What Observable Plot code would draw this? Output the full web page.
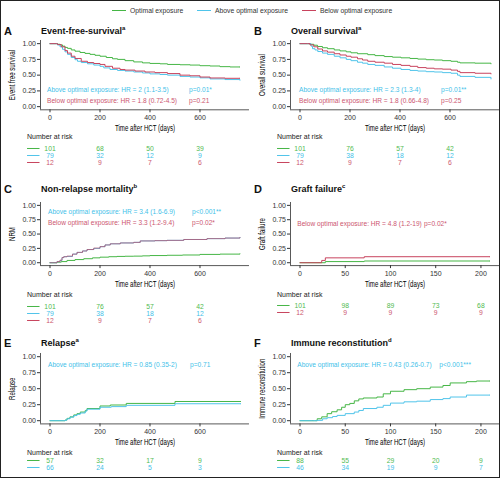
<!DOCTYPE html>
<html><head><meta charset="utf-8">
<script src="https://cdn.jsdelivr.net/npm/d3@7"></script>
<script src="https://cdn.jsdelivr.net/npm/@observablehq/plot@0.6"></script>
<style>
body{margin:0;background:#fff;}
#fig{position:relative;width:500px;height:478px;overflow:hidden;font-family:"Liberation Sans",Arial,sans-serif;background:#fff;}
#frame{position:absolute;left:0;top:0;width:500px;height:478px;box-sizing:border-box;border:1.5px solid #222;pointer-events:none;}
.abs{position:absolute;white-space:nowrap;line-height:1;}
.abs svg{display:block;}
.letter{font-weight:bold;font-size:11px;color:#111;}
.title{font-weight:bold;font-size:9px;color:#111;}
.title sup{font-size:6px;vertical-align:4px;line-height:0;}
.hdr{font-size:7px;color:#222;}
.leg{font-size:6.8px;color:#333;}
.legline{display:inline-block;width:14px;height:1.2px;vertical-align:middle;margin-right:4px;}
</style></head>
<body><div id="fig"><div id="frame"></div></div>
<script>
// ---------- data ----------
const groups = ["Optimal exposure", "Above optimal exposure", "Below optimal exposure"];
const xTitle = "Time after HCT (days)";
const yTicks = [0, 0.25, 0.5, 0.75, 1];
const longTicks = [0, 200, 400, 600];
const shortTicks = [0, 50, 100, 150, 200];

// A: event-free survival  [time, probability]
const efsOpt = [[0,1],[25,1],[30,0.99],[40,0.98],[50,0.96],[60,0.94],[70,0.925],[85,0.9],[100,0.88],[120,0.86],[140,0.845],[160,0.83],[180,0.815],[200,0.8],[225,0.78],[250,0.76],[270,0.75],[300,0.73],[335,0.71],[370,0.695],[400,0.686],[440,0.68],[470,0.67],[520,0.665],[560,0.66],[600,0.65],[640,0.645],[680,0.635],[720,0.63],[760,0.63]];
const efsAbove = [[0,1],[25,1],[30,0.98],[40,0.95],[50,0.91],[60,0.87],[70,0.83],[85,0.78],[100,0.745],[110,0.72],[125,0.7],[150,0.68],[175,0.66],[200,0.64],[215,0.615],[240,0.59],[270,0.575],[300,0.565],[335,0.55],[370,0.535],[400,0.52],[440,0.51],[470,0.5],[520,0.48],[560,0.47],[600,0.457],[640,0.44],[700,0.43],[760,0.42]];
const efsBelow = [[0,1],[25,1],[30,0.985],[45,0.95],[60,0.89],[70,0.85],[85,0.8],[100,0.765],[125,0.72],[150,0.7],[175,0.685],[200,0.67],[220,0.64],[250,0.61],[280,0.59],[300,0.58],[340,0.565],[380,0.55],[420,0.54],[470,0.525],[520,0.5],[560,0.49],[600,0.47],[640,0.455],[700,0.45],[760,0.45]];
// B: overall survival
const osOpt = [[0,1],[30,1],[40,0.99],[55,0.975],[70,0.955],[90,0.935],[110,0.92],[137,0.9],[160,0.885],[185,0.87],[204,0.855],[230,0.84],[271,0.825],[300,0.81],[337,0.795],[370,0.785],[404,0.775],[440,0.765],[471,0.755],[505,0.745],[537,0.74],[570,0.73],[604,0.72],[630,0.705],[640,0.695],[700,0.69],[764,0.68]];
const osAbove = [[0,1],[30,1],[44,0.96],[50,0.92],[60,0.9],[71,0.875],[90,0.85],[110,0.83],[137,0.8],[160,0.775],[185,0.75],[204,0.73],[230,0.705],[250,0.69],[271,0.67],[300,0.655],[337,0.63],[370,0.61],[404,0.59],[440,0.575],[471,0.565],[505,0.555],[537,0.55],[570,0.54],[604,0.53],[630,0.5],[640,0.48],[700,0.465],[764,0.44]];
const osBelow = [[0,1],[30,1],[40,0.98],[55,0.95],[71,0.915],[90,0.885],[110,0.865],[137,0.84],[160,0.82],[185,0.8],[204,0.785],[230,0.76],[250,0.74],[271,0.72],[300,0.705],[337,0.69],[370,0.67],[404,0.655],[440,0.64],[471,0.62],[505,0.61],[537,0.6],[570,0.595],[604,0.58],[630,0.56],[640,0.54],[700,0.53],[764,0.52]];
// C: non-relapse mortality
const nrmOpt = [[0,0],[20,0],[28,0.01],[45,0.02],[68,0.04],[100,0.055],[135,0.07],[170,0.085],[200,0.097],[235,0.105],[268,0.11],[300,0.113],[335,0.115],[370,0.12],[400,0.125],[468,0.13],[530,0.135],[600,0.145],[680,0.15],[760,0.155]];
const nrmAbove = [[0,0],[10,0],[28,0.02],[40,0.04],[48,0.09],[55,0.105],[68,0.11],[90,0.15],[108,0.18],[130,0.205],[148,0.23],[175,0.25],[200,0.28],[220,0.31],[241,0.33],[281,0.345],[335,0.355],[361,0.38],[420,0.385],[468,0.39],[535,0.405],[628,0.42],[700,0.43],[760,0.44]];
const nrmBelow = [[0,0],[10,0],[28,0.02],[40,0.045],[48,0.09],[55,0.105],[68,0.115],[90,0.15],[108,0.18],[130,0.205],[148,0.23],[175,0.255],[200,0.28],[220,0.31],[241,0.33],[281,0.345],[335,0.355],[361,0.38],[420,0.385],[468,0.39],[535,0.405],[628,0.42],[700,0.43],[760,0.44]];
// D: graft failure
const gfOpt = [[0,0],[28,0.02],[71,0.03],[210,0.03]];
const gfBelow = [[0,0],[24,0.04],[28,0.085],[71,0.105],[210,0.105]];
// E: relapse
const relOpt = [[0,0],[55,0],[60,0.01],[68,0.036],[80,0.06],[95,0.09],[108,0.11],[121,0.135],[141,0.16],[148,0.19],[200,0.23],[241,0.245],[305,0.27],[500,0.3],[764,0.3]];
const relAbove = [[0,0],[55,0],[60,0.008],[68,0.03],[80,0.055],[95,0.08],[108,0.1],[121,0.12],[141,0.15],[148,0.18],[200,0.21],[245,0.22],[305,0.24],[500,0.265],[764,0.265]];
// F: immune reconstitution
const irOpt = [[0,0],[16,0],[19,0.03],[24,0.06],[30,0.11],[35,0.14],[41,0.17],[46,0.21],[50,0.25],[55,0.27],[60,0.31],[65,0.34],[70,0.355],[85,0.37],[92,0.42],[100,0.46],[115,0.485],[129,0.5],[144,0.525],[158,0.55],[166,0.59],[184,0.61],[195,0.62],[210,0.62]];
const irAbove = [[0,0],[14,0],[19,0.005],[25,0.03],[30,0.047],[36,0.065],[41,0.083],[50,0.11],[60,0.135],[65,0.16],[70,0.19],[85,0.21],[92,0.24],[100,0.275],[115,0.295],[129,0.305],[144,0.33],[158,0.345],[166,0.37],[184,0.4],[210,0.4]];

// number at risk
const riskA = {opt:[101,68,50,39], above:[79,32,12,9], below:[12,9,7,6]};
const riskB = {opt:[101,76,57,42], above:[79,38,18,12], below:[12,9,7,6]};
const riskC = {opt:[101,76,57,42], above:[79,38,18,12], below:[12,9,7,6]};
const riskD = {opt:[101,98,89,73,68], below:[12,9,9,9,9]};
const riskE = {opt:[57,32,17,9], above:[66,24,5,3]};
const riskF = {opt:[88,55,29,20,9], above:[46,34,19,9,7]};

// annotation texts
const annA = ["Above optimal exposure: HR = 2 (1.1-3.5)", "p=0.01*", "Below optimal exposure: HR = 1.8 (0.72-4.5)", "p=0.21"];
const annB = ["Above optimal exposure: HR = 2.3 (1.3-4)", "p=0.01**", "Below optimal exposure: HR = 1.8 (0.66-4.8)", "p=0.25"];
const annC = ["Above optimal exposure: HR = 3.4 (1.6-6.9)", "p<0.001**", "Below optimal exposure: HR = 3.3 (1.2-9.4)", "p=0.02*"];
const annD = ["Below optimal exposure: HR = 4.8 (1.2-19)", "p=0.02*"];
const annE = ["Above optimal exposure: HR = 0.85 (0.35-2)", "p=0.71"];
const annF = ["Above optimal exposure: HR = 0.43 (0.26-0.7)", "p<0.001***"];

// ---------- styles ----------
const C = {opt:"#45b645", above:"#4fc4ea", below:"#c8435d"};
const CR = {opt:"#4fba4f", above:"#3fbfe9", below:"#cc5670"};
const fig = document.getElementById("fig");

function div(cls, left, top, html){
  const d = document.createElement("div");
  d.className = "abs " + cls;
  d.style.left = left + "px"; d.style.top = top + "px";
  d.innerHTML = html;
  fig.appendChild(d);
  return d;
}

// legend
[["opt",112],["above",197],["below",302]].forEach(([k,x],i)=>{
  div("leg", x, 7.5, `<span class="legline" style="background:${C[k]}"></span>${groups[i]}`);
});

const rows = [
  {rangeTop:39.55, rangeBottom:108.85, titleY:26, headerY:132.5, riskY:147.3},
  {rangeTop:202.1, rangeBottom:265.2, titleY:184, headerY:290.5, riskY:305.3},
  {rangeTop:353.1, rangeBottom:423.5, titleY:338, headerY:448.5, riskY:460}
];

// condense a text element (narrow-font look) keeping its anchor
function condense(svg, label, factor){
  svg.querySelectorAll("text").forEach(t => {
    if (t.textContent === label) {
      const w = t.getComputedTextLength();
      t.setAttribute("textLength", (w*factor).toFixed(1));
      t.setAttribute("lengthAdjust", "spacingAndGlyphs");
    }
  });
}

function addPanel(p){
  const row = rows[p.row];
  const W = 250, ml = 40, mr = 1, mt = 4, mb = 32;
  const top = row.rangeTop - mt;
  const H = (row.rangeBottom - top) + mb;
  const xd = p.xDomain;
  const k = (W - ml - mr) / (xd[1] - xd[0]);
  const marks = [
    Plot.ruleX([xd[0]], {stroke:"#111", strokeWidth:0.7}),
    Plot.ruleY([-0.05], {stroke:"#111", strokeWidth:0.7}),
    Plot.axisX({anchor:"bottom", ticks:p.xTicks, tickSize:3, tickPadding:2, fontSize:7, label:null, tickFormat:d=>String(d)}),
    Plot.axisY({anchor:"left", ticks:yTicks, tickSize:3, tickPadding:1.5, fontSize:7, label:null, tickFormat:d3.format(".2f")}),
    ...p.series.map(s => Plot.line(s.data, {x:d=>d[0], y:d=>d[1], stroke:C[s.g], strokeWidth:1, strokeOpacity:s.op ?? 1, curve:"step-after"})),
    ...p.ann.map(a => Plot.text([a.text], {x:()=>a.x, y:()=>a.y, text:d=>d, fill:CR[a.g], textAnchor:"start", fontSize:6.6})),
    Plot.text([xTitle], {frameAnchor:"bottom", dy:21, text:d=>d, fontSize:9, fill:"#000"}),
    Plot.text([p.ylabel], {x:()=>xd[0] - 28/k, rotate:-90, text:d=>d, fontSize:9, fill:"#000"})
  ];
  const svg = Plot.plot({
    width:W, height:H, marginLeft:ml, marginRight:mr, marginTop:mt, marginBottom:mb,
    x:{domain:xd}, y:{domain:[-0.05,1.05]},
    style:{fontFamily:"'Liberation Sans',Arial,sans-serif", color:"#333", background:"transparent", overflow:"visible"},
    marks
  });
  const wrap = div("", p.left, top, "");
  wrap.appendChild(svg);
  condense(svg, xTitle, 0.68);
  condense(svg, p.ylabel, 0.68);

  div("letter", p.left + 4, row.titleY, p.letter);
  div("title", p.left + 41, row.titleY + 1, p.title + `<sup>${p.sup}</sup>`);
  div("hdr", p.left + 27, row.headerY, "Number at risk");

  // risk table
  const keys = Object.keys(p.risk);
  const step = 7.7, rmt = 6;
  const rH = rmt + step*(keys.length-1) + 6;
  const seg0 = xd[0] - 13/k, seg1 = xd[0] - 0.5/k;
  const rmarks = [];
  keys.forEach(g => {
    rmarks.push(Plot.ruleY([g], {y:d=>d, x1:()=>seg0, x2:()=>seg1, stroke:C[g], strokeWidth:1}));
    rmarks.push(Plot.text(p.risk[g].map((n,i)=>({t:p.xTicks[i], n, g})), {x:"t", y:"g", text:d=>String(d.n), fill:CR[g], fontSize:6.8}));
  });
  const rsvg = Plot.plot({
    width:W, height:rH, marginLeft:ml, marginRight:mr, marginTop:rmt, marginBottom:6,
    x:{domain:xd, axis:null},
    y:{type:"point", domain:keys, range:[rmt, rmt + step*(keys.length-1)], padding:0, axis:null},
    style:{fontFamily:"'Liberation Sans',Arial,sans-serif", background:"transparent", overflow:"visible"},
    marks: rmarks
  });
  const rwrap = div("", p.left, row.riskY - rmt, "");
  rwrap.appendChild(rsvg);
}

const longDom = [-38, 798], shortDom = [-10.5, 220.5];

addPanel({row:0, left:0, letter:"A", title:"Event-free-survival", sup:"a", ylabel:"Event free survival",
  xDomain:longDom, xTicks:longTicks,
  series:[{g:"opt",data:efsOpt},{g:"above",data:efsAbove},{g:"below",data:efsBelow}],
  ann:[{g:"above",x:-12,y:0.265,text:annA[0]},{g:"above",x:556,y:0.265,text:annA[1]},{g:"below",x:-12,y:0.09,text:annA[2]},{g:"below",x:556,y:0.09,text:annA[3]}],
  risk:riskA});
addPanel({row:0, left:250, letter:"B", title:"Overall survival", sup:"a", ylabel:"Overall survival",
  xDomain:longDom, xTicks:longTicks,
  series:[{g:"opt",data:osOpt},{g:"above",data:osAbove},{g:"below",data:osBelow}],
  ann:[{g:"above",x:-4,y:0.265,text:annB[0]},{g:"above",x:564,y:0.265,text:annB[1]},{g:"below",x:-4,y:0.09,text:annB[2]},{g:"below",x:564,y:0.09,text:annB[3]}],
  risk:riskB});
addPanel({row:1, left:0, letter:"C", title:"Non-relapse mortality", sup:"b", ylabel:"NRM",
  xDomain:longDom, xTicks:longTicks,
  series:[{g:"opt",data:nrmOpt},{g:"above",data:nrmAbove},{g:"below",data:nrmBelow,op:0.7}],
  ann:[{g:"above",x:-8,y:0.895,text:annC[0]},{g:"above",x:568,y:0.895,text:annC[1]},{g:"below",x:-8,y:0.7,text:annC[2]},{g:"below",x:568,y:0.7,text:annC[3]}],
  risk:riskC});
addPanel({row:1, left:250, letter:"D", title:"Graft failure", sup:"c", ylabel:"Graft failure",
  xDomain:shortDom, xTicks:shortTicks,
  series:[{g:"opt",data:gfOpt},{g:"below",data:gfBelow}],
  ann:[{g:"below",x:-3,y:0.67,text:annD[0]},{g:"below",x:137,y:0.67,text:annD[1]}],
  risk:riskD});
addPanel({row:2, left:0, letter:"E", title:"Relapse", sup:"a", ylabel:"Relapse",
  xDomain:longDom, xTicks:longTicks,
  series:[{g:"opt",data:relOpt},{g:"above",data:relAbove}],
  ann:[{g:"above",x:-8,y:0.88,text:annE[0]},{g:"above",x:560,y:0.88,text:annE[1]}],
  risk:riskE});
addPanel({row:2, left:250, letter:"F", title:"Immune reconstitution", sup:"d", ylabel:"Immune reconstitution",
  xDomain:shortDom, xTicks:shortTicks,
  series:[{g:"opt",data:irOpt},{g:"above",data:irAbove}],
  ann:[{g:"above",x:-3,y:0.88,text:annF[0]},{g:"above",x:154,y:0.88,text:annF[1]}],
  risk:riskF});
</script>
</body></html>
